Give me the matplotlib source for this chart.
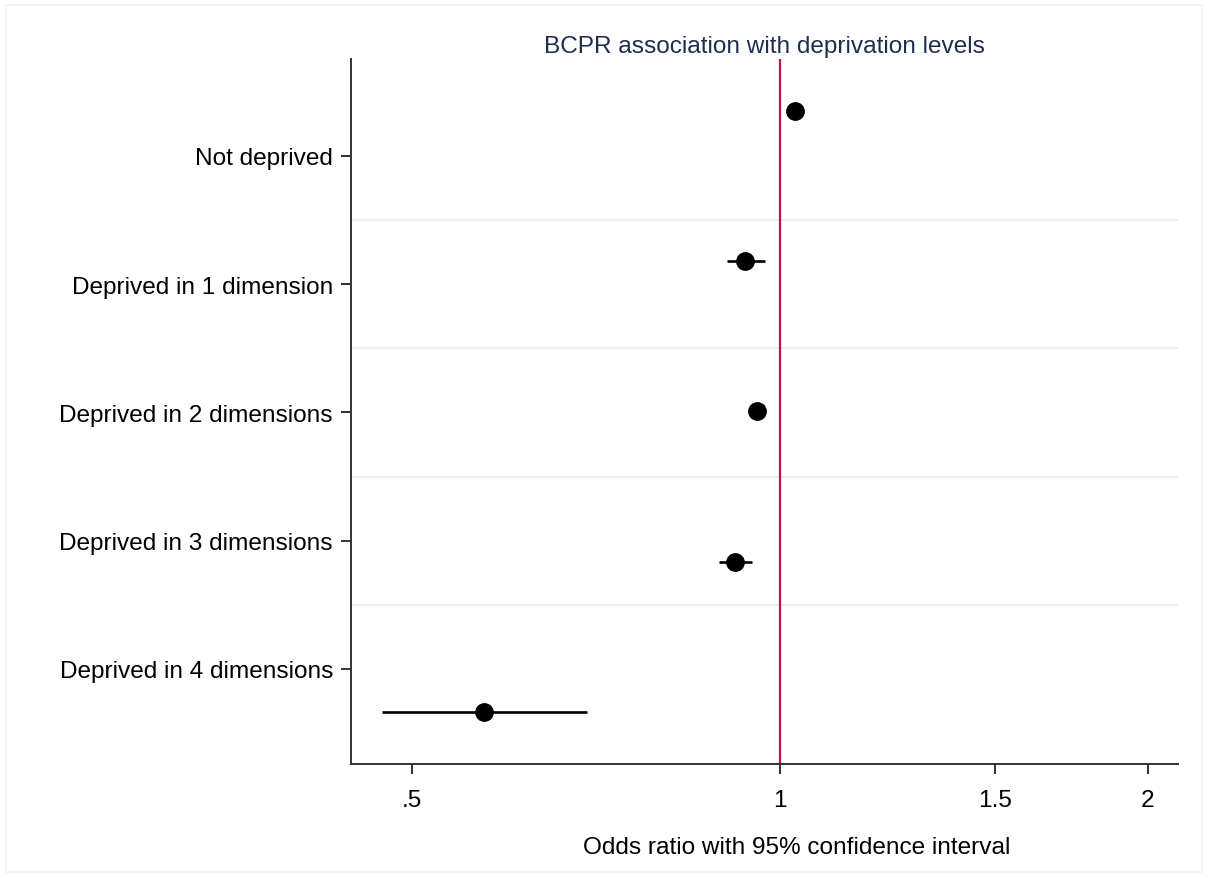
import matplotlib
matplotlib.use("Agg")
import matplotlib.pyplot as plt
from matplotlib.patches import Rectangle
import numpy as np

plt.rcParams['font.family'] = ['Liberation Sans', 'DejaVu Sans']

categories = ["Not deprived", "Deprived in 1 dimension", "Deprived in 2 dimensions",
              "Deprived in 3 dimensions", "Deprived in 4 dimensions"]
odds_ratio = [1.029, 0.937, 0.958, 0.919, 0.573]
ci_low = [1.020, 0.905, 0.947, 0.891, 0.473]
ci_high = [1.038, 0.972, 0.969, 0.948, 0.695]
xticks = [0.5, 1, 1.5, 2]
xtick_labels = [".5", "1", "1.5", "2"]
title = "BCPR association with deprivation levels"
xlabel = "Odds ratio with 95% confidence interval"

W, H = 1208, 879
fig = plt.figure(figsize=(W / 100, H / 100), dpi=100)
ax = fig.add_axes([351 / W, 1 - 765 / H, (1178 - 351) / W, (765 - 60) / H])

n = len(categories)
label_pos = np.arange(n)
center = (n - 1) / 2
point_pos = center + (label_pos - center) * 1.1715 - 0.008

# gridlines between categories
for g in np.arange(0.5, n - 1, 1.0):
    ax.axhline(g, color='#e6eef0', lw=1.5, zorder=0)

ax.axvline(1, color='#c0143c', lw=1.6, zorder=1)

ax.hlines(point_pos, ci_low, ci_high, color='black', lw=1.9, zorder=2)
ax.plot(odds_ratio, point_pos, 'o', color='black', markersize=12.5, zorder=3)

ax.set_xscale('log')
ax.set_xlim(0.446, 2.116)
ax.set_xticks(xticks)
ax.set_xticklabels(xtick_labels)
ax.xaxis.set_minor_locator(matplotlib.ticker.NullLocator())
ax.set_ylim(4.741, -0.756)
ax.set_yticks(label_pos)
ax.set_yticklabels(categories)

for s in ['top', 'right']:
    ax.spines[s].set_visible(False)
for s in ['left', 'bottom']:
    ax.spines[s].set_color('#333333')
    ax.spines[s].set_linewidth(1.4)

FS = 17.6
ax.tick_params(axis='both', length=7, width=1.4, color='#333333', labelsize=FS, labelcolor='black')
ax.tick_params(axis='y', pad=6)
ax.tick_params(axis='x', pad=11)

fig.text((351 + 1178) / 2 / W, 1 - 47 / H, title, ha='center', va='center',
         fontsize=FS, color='#1f2d50')
fig.text(797 / W, 1 - 848 / H, xlabel, ha='center', va='center', fontsize=FS, color='black')

fig.patches.append(Rectangle((6 / W, 6 / H), (W - 12) / W, (H - 12) / H,
                             transform=fig.transFigure, fill=False,
                             edgecolor='#edf2f3', lw=1.2))

fig.savefig("out.png", dpi=100)
